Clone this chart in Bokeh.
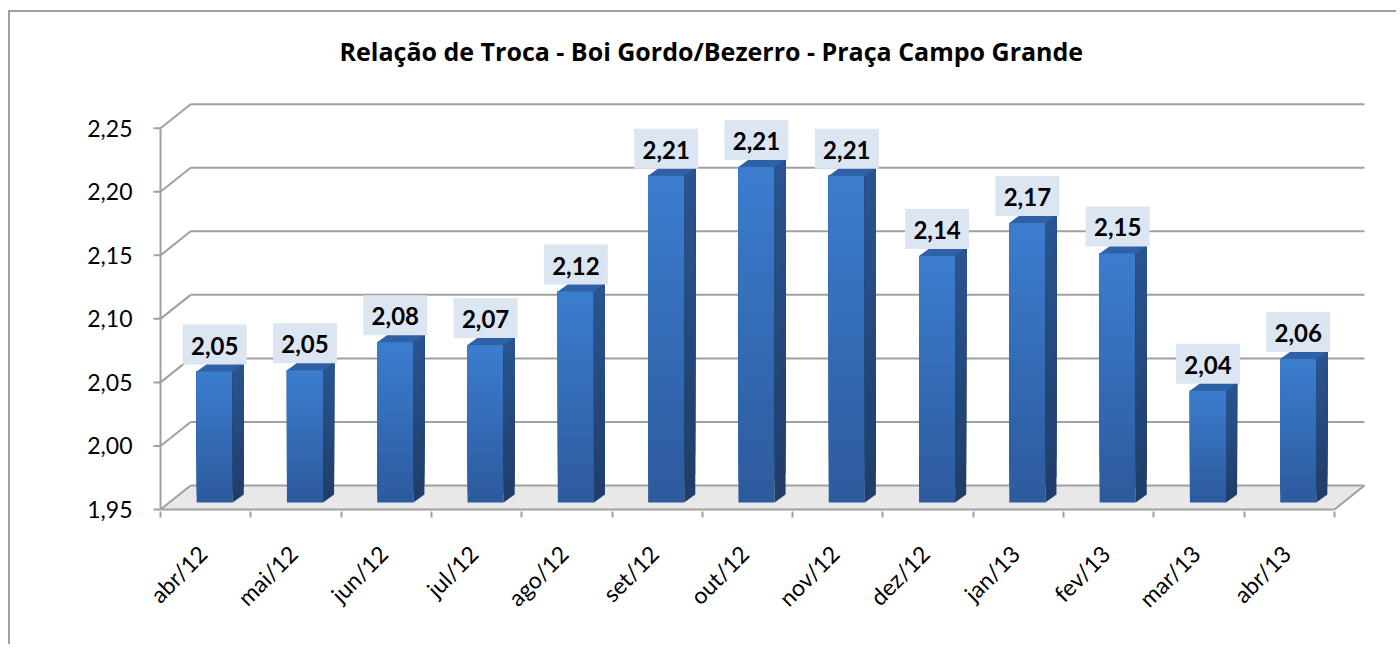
from bokeh.plotting import figure
from bokeh.models import Range1d, FixedTicker, ColumnDataSource
from bokeh.embed import file_html
from bokeh.resources import INLINE
from bokeh.core.properties import value

# ---------------- data ----------------
months = ["abr/12", "mai/12", "jun/12", "jul/12", "ago/12", "set/12", "out/12",
          "nov/12", "dez/12", "jan/13", "fev/13", "mar/13", "abr/13"]
ratio = [2.053, 2.054, 2.076, 2.074, 2.116, 2.207, 2.214,
         2.207, 2.144, 2.170, 2.146, 2.038, 2.063]
ratio_labels = ["2,05", "2,05", "2,08", "2,07", "2,12", "2,21", "2,21",
                "2,21", "2,14", "2,17", "2,15", "2,04", "2,06"]
y_ticks = [1.95, 2.00, 2.05, 2.10, 2.15, 2.20, 2.25]
y_tick_labels = ["1,95", "2,00", "2,05", "2,10", "2,15", "2,20", "2,25"]
title_text = "Relação de Troca - Boi Gordo/Bezerro - Praça Campo Grande"

FONT = "Lato"
TFONT = "Open Sans"
# ---------------- geometry (pixel -> data) ----------------
PX = 1.0 / 90.0      # data units per pixel, x
PY = 1.0 / 1271.0    # data units per pixel, y
BASE = y_ticks[0]
TOPV = y_ticks[-1]
N = len(months)
DX, DY = 30 * PX, 24 * PY   # depth of the 3-D box

p = figure(width=1388, height=634, output_backend="svg", toolbar_location=None,
           x_range=Range1d(-8 * PX, N + 36 * PX),
           y_range=Range1d(BASE - 2 * PY, BASE + 479 * PY),
           min_border_left=142, min_border_right=28, min_border_top=18, min_border_bottom=135)
p.styles = {"margin-left": "10px", "margin-top": "12px",
            "box-shadow": "-2px -2px 0px 0px #a0a0a0"}
p.xgrid.visible = False
p.ygrid.visible = False
p.outline_line_color = None
p.background_fill_color = "white"
p.border_fill_color = "white"

GRID = "#a0a0a0"

# title (inside the frame area above the chart)
p.text(x=[(709 - 160) * PX], y=[BASE + (509 - 50) * PY], text=[title_text],
       text_align="center", text_baseline="alphabetic", text_font=value(TFONT),
       text_font_style="bold", text_font_size="25px", text_color="black")

# floor
p.patch([0, N, N + DX, DX], [BASE, BASE, BASE + DY, BASE + DY],
        fill_color="#e8e8e8", line_color=None)

# back wall grid lines and left wall diagonals
p.segment(x0=[DX] * len(y_ticks), y0=[t + DY for t in y_ticks],
          x1=[N + DX] * len(y_ticks), y1=[t + DY for t in y_ticks],
          line_color=GRID, line_width=2)
p.segment(x0=[0] * len(y_ticks), y0=y_ticks,
          x1=[DX] * len(y_ticks), y1=[t + DY for t in y_ticks],
          line_color=GRID, line_width=2)
# y tick marks
p.segment(x0=[-7 * PX] * len(y_ticks), y0=y_ticks, x1=[0] * len(y_ticks), y1=y_ticks,
          line_color=GRID, line_width=2)
# front axis line, floor front edge and right edge
p.segment(x0=[0, 0, N], y0=[BASE, BASE, BASE], x1=[0, N, N + DX], y1=[TOPV, BASE, BASE + DY],
          line_color=GRID, line_width=2)

# ---------------- bars ----------------
def lerp(c0, c1, t):
    a = [int(c0[i:i + 2], 16) for i in (1, 3, 5)]
    b = [int(c1[i:i + 2], 16) for i in (1, 3, 5)]
    return "#%02x%02x%02x" % tuple(round(a[k] + (b[k] - a[k]) * t) for k in range(3))

NB = 16
fl, fr, fb, ft, fc = [], [], [], [], []
sxs, sys, sc = [], [], []
txs, tys = [], []
for i, v in enumerate(ratio):
    x0 = i + 36 * PX
    x1 = i + 72 * PX
    bot = BASE + 7 * PY
    top = v + 7 * PY
    for k in range(NB):
        b = bot + (top - bot) * k / NB
        f = (k + 0.5) / NB
        # each band runs to the top; later bands paint over -> no seams
        fl.append(x0); fr.append(x1); fb.append(b); ft.append(top)
        fc.append(lerp("#2c5a9c", "#3c7dcf", f))
        sxs.append([x1, x1 + 11 * PX, x1 + 11 * PX, x1])
        sys.append([b, b + 8 * PY, top + 8 * PY, top])
        sc.append(lerp("#1f3d69", "#2a5590", f))
    txs.append([x0, x1, x1 + 11 * PX, x0 + 11 * PX])
    tys.append([top, top, top + 8 * PY, top + 8 * PY])

p.quad(left=fl, right=fr, bottom=fb, top=ft, fill_color=fc, line_color=None)
p.patches(sxs, sys, fill_color=sc, line_color=None)
p.patches(txs, tys, fill_color="#2f61a6", line_color=None)

# ---------------- data labels ----------------
lab = ColumnDataSource(dict(x=[i + 54 * PX for i in range(N)],
                            y=[v + 34 * PY for v in ratio],
                            text=ratio_labels))
p.rect(x="x", y="y", width=64, height=40, width_units="screen", height_units="screen",
       source=lab, fill_color="#dce6f2", line_color=None)
p.text(x="x", y="y", text="text", source=lab, text_align="center", text_baseline="middle",
       text_font=value(FONT), text_font_style="bold", text_font_size="24px",
       text_color="black", y_offset=1)

# ---------------- axes ----------------
yax = p.yaxis[0]
yax.ticker = FixedTicker(ticks=y_ticks)
yax.major_label_overrides = {t: s for t, s in zip(y_ticks, y_tick_labels)}
yax.axis_line_color = None
yax.major_tick_line_color = None
yax.minor_tick_line_color = None
yax.major_tick_out = 0
yax.major_tick_in = 0
yax.major_label_standoff = 20
yax.major_label_text_font = FONT
yax.major_label_text_font_size = "23px"
yax.major_label_text_color = "black"

label_pos = [i + 0.5 - 3 * PX for i in range(N)]
xax = p.xaxis[0]
xax.ticker = FixedTicker(ticks=label_pos, minor_ticks=list(range(N + 1)))
xax.major_label_overrides = {t: s for t, s in zip(label_pos, months)}
xax.axis_line_color = None
xax.major_tick_line_color = None
xax.major_tick_out = 0
xax.major_tick_in = 0
xax.minor_tick_line_color = GRID
xax.minor_tick_line_width = 2
xax.minor_tick_out = 6
xax.minor_tick_in = 0
xax.major_label_orientation = 0.785398
xax.major_label_standoff = 32
xax.major_label_text_font = FONT
xax.major_label_text_font_size = "23px"
xax.major_label_text_color = "black"

open("out.html", "w").write(file_html(p, INLINE))
